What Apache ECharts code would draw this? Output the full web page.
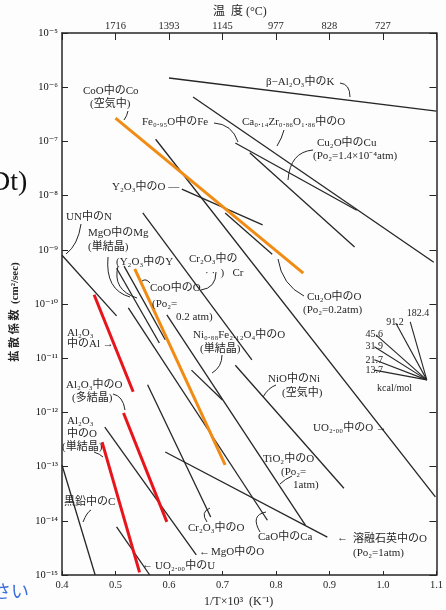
<!DOCTYPE html>
<html>
<head>
<meta charset="utf-8">
<script src="https://cdn.jsdelivr.net/npm/echarts@6/dist/echarts.min.js"></script>
<style>
  html, body { margin: 0; padding: 0; background: #fff; }
  #chart { width: 446px; height: 610px; }
</style>
</head>
<body>
<div id="chart"></div>
<script>
// lines of the Arrhenius plot: [1/T x 10^3, log10 D] at both ends
const betaAl2O3_K   = [[0.60, -5.83], [1.10, -6.44]];
const CaZrO_O       = [[0.645, -6.18], [1.095, -9.23]];
const FeO_Fe        = [[0.724, -7.03], [0.951, -8.27]];
const Cu2O_Cu       = [[0.751, -7.21], [0.947, -8.95]];
const Y2O3_O        = [[0.624, -7.88], [0.775, -8.54]];
const UO2_O         = [[0.575, -6.96], [1.098, -13.56]];
const Cu2O_O        = [[0.705, -8.32], [0.793, -9.08]];
const Cr2O3_Cr      = [[0.551, -8.32], [0.755, -11.03]];
const UN_N          = [[0.40, -9.10], [0.502, -10.22]];
const MgO_Mg        = [[0.502, -9.34], [0.582, -10.72]];
const Y2O3_Y        = [[0.516, -9.30], [0.593, -10.66]];
const CaO_Ca        = [[0.524, -10.07], [0.784, -13.99]];
const Cr2O3_O       = [[0.56, -11.49], [0.678, -13.93]];
const TiO2_O        = [[0.596, -10.20], [0.855, -14.08]];
const NiFeO_O       = [[0.642, -11.22], [0.70, -11.77]];
const NiO_Ni        = [[0.724, -11.13], [0.927, -13.40]];
const silica_O      = [[0.593, -12.73], [0.896, -14.30]];
const MgO_O         = [[0.48, -12.27], [0.651, -14.63]];
const UO2_U         = [[0.502, -14.11], [0.564, -15.0]];
const graphite_C    = [[0.40, -12.97], [0.462, -15.0]];
// highlighted (orange)
const CoO_Co        = [[0.50, -6.57], [0.851, -9.43]];
const CoO_O         = [[0.536, -9.35], [0.705, -12.97]];
// highlighted (red)
const Al2O3_Al      = [[0.46, -9.83], [0.533, -11.62]];
const Al2O3_O_poly  = [[0.515, -12.01], [0.596, -14.02]];
const Al2O3_O_mono  = [[0.475, -12.55], [0.545, -14.95]];

// activation energy fan (kcal/mol)
const fanEnergies = ['182.4', '91.2', '45.6', '31.9', '21.7', '13.7'];
const fanOrigin   = [1.082, -11.40];
const fanTips     = [[1.051, -10.33], [1.024, -10.35], [0.987, -10.57], [0.984, -10.79], [0.984, -11.03], [0.984, -11.22]];

// axis ticks
const xTicks      = [0.4, 0.5, 0.6, 0.7, 0.8, 0.9, 1.0, 1.1];
const tempLabels  = ['', '1716', '1393', '1145', '977', '828', '727', ''];
const logTicks    = [-15, -14, -13, -12, -11, -10, -9, -8, -7, -6, -5];

const blackLines = [betaAl2O3_K, CaZrO_O, FeO_Fe, Cu2O_Cu, Y2O3_O, UO2_O, Cu2O_O, Cr2O3_Cr,
  UN_N, MgO_Mg, Y2O3_Y, CaO_Ca, Cr2O3_O, TiO2_O, NiFeO_O, NiO_Ni, silica_O, MgO_O, UO2_U, graphite_C];
const orangeLines = [CoO_Co, CoO_O];
const redLines = [Al2O3_Al, Al2O3_O_poly, Al2O3_O_mono];

const INK = '#262626';
const SERIF = '"Liberation Serif", "DejaVu Serif", "Noto Sans CJK JP", serif';
const JP = '"Liberation Serif", "Noto Sans CJK JP", sans-serif';

const sup = { '-': '⁻', '0': '⁰', '1': '¹', '2': '²', '3': '³', '4': '⁴', '5': '⁵', '6': '⁶', '7': '⁷', '8': '⁸', '9': '⁹' };
function toSup(n) { return String(n).split('').map(c => sup[c]).join(''); }

function lineSeries(pts, color, width) {
  return {
    type: 'line', data: pts, showSymbol: false, silent: true, animation: false,
    lineStyle: { color: color, width: width }, z: width > 2 ? 4 : 3
  };
}

const series = [];
blackLines.forEach(p => series.push(lineSeries(p, INK, 1.3)));
fanTips.forEach(t => series.push(lineSeries([t, fanOrigin], INK, 1.1)));
orangeLines.forEach(p => series.push(lineSeries(p, '#f08c14', 3)));
redLines.forEach(p => series.push(lineSeries(p, '#e8141c', 3)));

// text labels on the plot (pixel positions)
function txt(x, y, s, size, align, family) {
  return {
    type: 'text', x: x, y: y, z: 10,
    style: { text: s, font: (size || 11) + 'px ' + (family || JP), fill: INK,
      align: align || 'left', verticalAlign: 'middle' }
  };
}
function curve(x1, y1, cx, cy, x2, y2) {
  return { type: 'bezierCurve', z: 10, shape: { x1, y1, cpx1: cx, cpy1: cy, x2, y2 },
    style: { stroke: INK, lineWidth: 1, fill: null } };
}

const labels = [
  txt(213, 12, '温  度 (°C)', 12),
  txt(204, 602, '1/T×10³  (K⁻¹)', 12),
  { type: 'text', x: 15, y: 312, rotation: Math.PI / 2, z: 10,
    style: { text: '拡 散 係 数  (cm²/sec)', font: 'bold 11px ' + JP, fill: INK, align: 'center', verticalAlign: 'middle' } },
  { type: 'text', x: -10, y: 183, z: 10,
    style: { text: 'Dt)', font: '28px ' + SERIF, fill: '#111', verticalAlign: 'middle' } },
  { type: 'text', x: -7, y: 591, z: 10,
    style: { text: 'さい', font: '18px "Noto Sans CJK JP"', fill: '#3b6fd9', verticalAlign: 'middle' } },

  txt(266, 82, 'β−Al₂O₃中のK'),
  curve(340, 83, 350, 84, 350, 97),
  txt(83, 91, 'CoO中のCo'),
  txt(90, 104, '(空気中)'),
  curve(128, 111, 127, 116, 124, 120),
  txt(142, 122, 'Fe₀.₉₅O中のFe'),
  curve(214, 123, 232, 124, 238, 142),
  txt(242, 122, 'Ca₀.₁₄Zr₀.₈₆O₁.₈₆中のO'),
  curve(284, 130, 282, 138, 277, 146),
  txt(317, 143, 'Cu₂O中のCu'),
  txt(313, 156, '(Po₂=1.4×10⁻⁴atm)'),
  curve(313, 150, 290, 152, 288, 180),
  txt(112, 187, 'Y₂O₃中のO —'),
  txt(66, 217, 'UN中のN'),
  curve(81, 224, 78, 245, 66, 254),
  txt(88, 233, 'MgO中のMg'),
  txt(88, 247, '(単結晶)'),
  curve(108, 257, 105, 290, 130, 297),
  txt(116, 262, '(Y₂O₃中のY'),
  curve(118, 266, 112, 290, 137, 298),
  txt(189, 259, 'Cr₂O₃中の'),
  txt(205, 273, '· ·  )   Cr'),
  curve(216, 272, 216, 288, 201, 290),
  txt(150, 288, 'CoO中のO'),
  curve(150, 283, 146, 278, 142, 281),
  txt(152, 304, '(Po₂='),
  txt(176, 317, '0.2 atm)'),
  txt(307, 297, 'Cu₂O中のO'),
  txt(303, 310, '(Po₂=0.2atm)'),
  curve(304, 296, 282, 285, 278, 259),
  txt(193, 335, 'Ni₀.₈₈Fe₂.₁₂O₄中のO'),
  txt(200, 349, '(単結晶)'),
  curve(222, 355, 222, 367, 212, 373),
  txt(268, 379, 'NiO中のNi'),
  txt(282, 393, '(空気中)'),
  curve(276, 385, 268, 388, 263, 397),
  txt(313, 428, 'UO₂.₀₀中のO →'),
  txt(263, 459, 'TiO₂中のO'),
  txt(281, 472, '(Po₂='),
  txt(293, 485, '1atm)'),
  curve(292, 476, 285, 479, 280, 484),
  txt(67, 333, 'Al₂O₃'),
  txt(67, 344, '中のAl →'),
  txt(66, 385, 'Al₂O₃中のO'),
  txt(72, 398, '(多結晶)'),
  curve(113, 394, 123, 396, 125, 410),
  txt(67, 421, 'Al₂O₃'),
  txt(67, 434, '中のO'),
  txt(62, 447, '(単結晶)'),
  curve(94, 452, 100, 454, 103, 457),
  txt(64, 502, '黒鉛中のC'),
  curve(91, 510, 87, 512, 83, 522),
  txt(188, 528, 'Cr₂O₃中のO'),
  curve(207, 522, 200, 512, 210, 508),
  txt(258, 537, 'CaO中のCa'),
  curve(260, 532, 250, 515, 266, 512),
  txt(337, 538, '←'),
  txt(353, 539, '溶融石英中のO'),
  txt(353, 553, '(Po₂=1atm)'),
  txt(199, 552, '←'),
  txt(211, 552, 'MgO中のO'),
  txt(142, 565, '←'),
  txt(155, 566, 'UO₂.₀₀中のU'),

  txt(418, 313, fanEnergies[0], 10, 'center', SERIF),
  txt(395, 322, fanEnergies[1], 10, 'center', SERIF),
  txt(383, 334, fanEnergies[2], 10, 'right', SERIF),
  txt(383, 346, fanEnergies[3], 10, 'right', SERIF),
  txt(383, 360, fanEnergies[4], 10, 'right', SERIF),
  txt(383, 370, fanEnergies[5], 10, 'right', SERIF),
  txt(377, 388, 'kcal/mol', 10, 'left', SERIF)
];

const axisLine = { show: true, lineStyle: { color: INK, width: 1.5 } };
const chart = echarts.init(document.getElementById('chart'));
chart.setOption({
  backgroundColor: '#fdfdfd',
  animation: false,
  grid: { left: 62, top: 33, width: 385, height: 542, containLabel: false },
  xAxis: [
    { type: 'value', position: 'bottom', min: 0.4, max: 1.1, interval: 0.1,
      axisLine: axisLine, axisTick: { inside: true, length: 4, lineStyle: { color: INK } },
      splitLine: { show: false },
      axisLabel: { color: INK, fontSize: 10.5, fontFamily: SERIF, margin: 5,
        formatter: v => v.toFixed(1) } },
    { type: 'value', position: 'top', min: 0.4, max: 1.1, interval: 0.1,
      axisLine: axisLine, axisTick: { inside: true, length: 7, lineStyle: { color: INK } },
      splitLine: { show: false },
      axisLabel: { color: INK, fontSize: 10.5, fontFamily: SERIF, margin: 2,
        formatter: v => tempLabels[xTicks.findIndex(t => Math.abs(t - v) < 1e-6)] || '' } }
  ],
  yAxis: [
    { type: 'value', position: 'left', min: -15, max: -5, interval: 1,
      axisLine: axisLine, axisTick: { inside: true, length: 6, lineStyle: { color: INK } },
      splitLine: { show: false },
      axisLabel: { color: '#111', fontSize: 10.5, fontFamily: SERIF, margin: 4,
        formatter: v => logTicks.includes(v) ? '10' + toSup(v) : '' } },
    { type: 'value', position: 'right', min: -15, max: -5, interval: 1,
      axisLine: axisLine, axisTick: { inside: true, length: 7, lineStyle: { color: INK } },
      splitLine: { show: false }, axisLabel: { show: false } }
  ],
  series: series,
  graphic: labels
});
</script>
</body>
</html>
